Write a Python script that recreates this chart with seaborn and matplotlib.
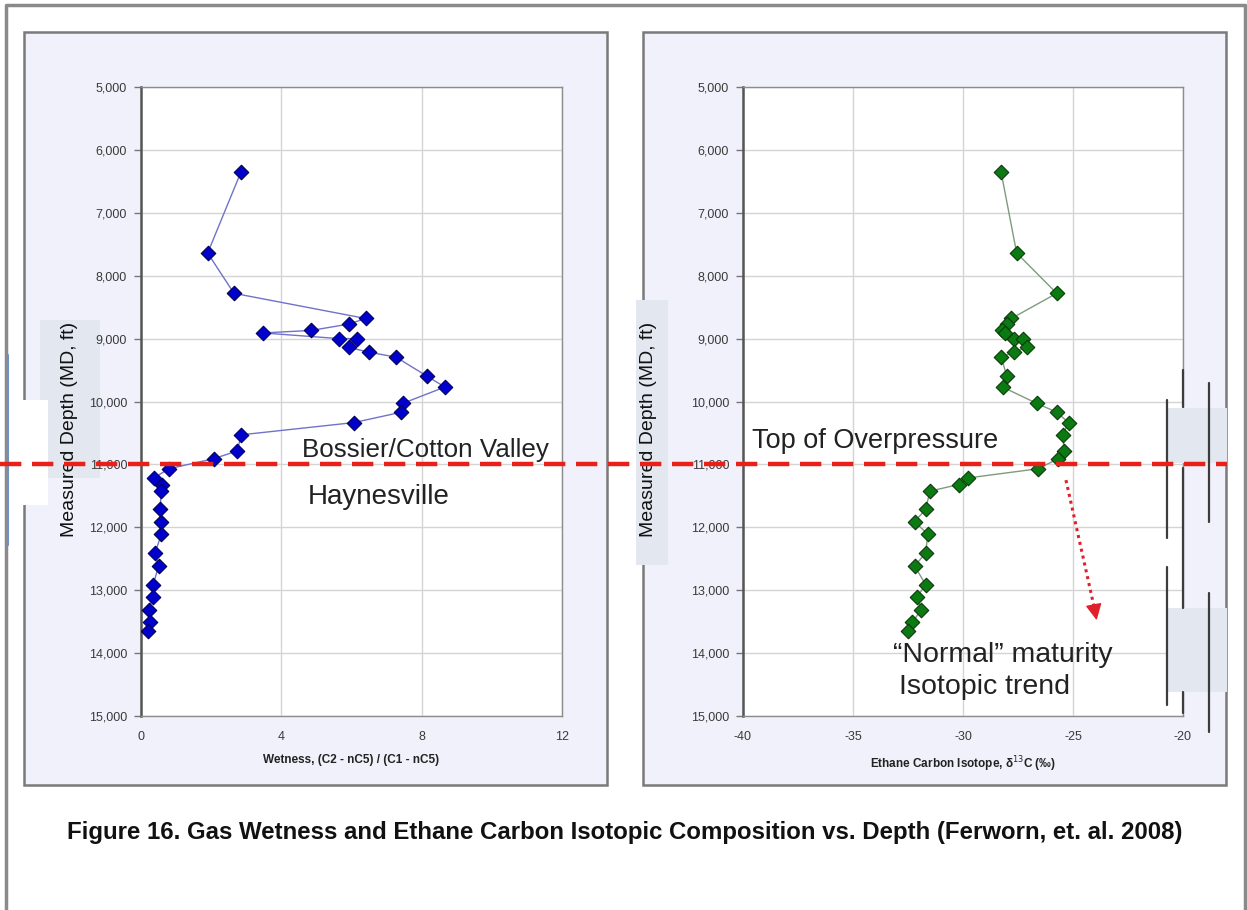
import matplotlib
matplotlib.use("Agg")
import matplotlib.pyplot as plt
import matplotlib.transforms as mtransforms
from matplotlib.patches import Rectangle, FancyArrowPatch
from matplotlib.lines import Line2D
import seaborn as sns

# sample depths (ft), shared by both panels
depth = [6350, 7640, 8280, 8680, 8770, 8870, 8910, 9000, 9000, 9140, 9215, 9295,
         9600, 9770, 10030, 10170, 10335, 10530, 10785, 10910, 11070, 11215, 11320,
         11425, 11715, 11910, 12110, 12410, 12615, 12910, 13110, 13310, 13510, 13655]

# gas wetness, (C2 - nC5) / (C1 - nC5)
wetness = [2.85, 1.9, 2.65, 6.4, 5.92, 4.85, 3.48, 5.64, 6.17, 5.92, 6.49, 7.27,
           8.16, 8.66, 7.46, 7.42, 6.07, 2.85, 2.75, 2.07, 0.79, 0.37, 0.61,
           0.58, 0.54, 0.57, 0.58, 0.40, 0.50, 0.35, 0.33, 0.23, 0.25, 0.20]

# ethane carbon isotope, d13C (permil)
ethane_d13c = [-28.27, -27.56, -25.74, -27.8, -28.0, -28.24, -28.1, -27.7, -27.26, -27.1, -27.7, -28.27,
               -28.0, -28.2, -26.65, -25.74, -25.2, -25.47, -25.4, -25.67, -26.6, -29.76, -30.2,
               -31.5, -31.7, -32.2, -31.6, -31.7, -32.2, -31.7, -32.1, -31.9, -32.3, -32.5]

depth_ticks = [5000, 6000, 7000, 8000, 9000, 10000, 11000, 12000, 13000, 14000, 15000]
depth_labels = [f"{d:,}" for d in depth_ticks]
wet_ticks = [0, 4, 8, 12]
iso_ticks = [-40, -35, -30, -25, -20]
overpressure_depth = 11000

caption = ("Figure 16. Gas Wetness and Ethane Carbon Isotopic Composition vs. Depth "
           "(Ferworn, et. al. 2008)")

sns.set_theme(style="whitegrid")
plt.rcParams['font.family'] = ['Liberation Sans', 'DejaVu Sans']
plt.rcParams['axes.unicode_minus'] = False

W, H = 1247, 910
fig = plt.figure(figsize=(W / 100, H / 100), dpi=100)
fig.patch.set_facecolor("white")


def box(x0, y0, x1, y1):
    # pixel box -> figure fraction [left, bottom, width, height]
    return [x0 / W, 1 - y1 / H, (x1 - x0) / W, (y1 - y0) / H]


def rect(x0, y0, x1, y1, fc, ec="none", lw=0, z=-1):
    l, b, w, h = box(x0, y0, x1, y1)
    fig.add_artist(Rectangle((l, b), w, h, transform=fig.transFigure,
                             facecolor=fc, edgecolor=ec, lw=lw, zorder=z))


def vline(x, y0, y1, color="#555555", lw=1.5, z=4):
    fig.add_artist(Line2D([x / W, x / W], [1 - y0 / H, 1 - y1 / H],
                          transform=fig.transFigure, color=color, lw=lw, zorder=z))


# outer frame
fig.add_artist(Line2D([6 / W, 6 / W, 1245 / W, 1245 / W], [0, 1 - 5 / H, 1 - 5 / H, 0],
                      transform=fig.transFigure, color="#8a8a8a", lw=2.5, zorder=-2))

# panel backgrounds
rect(24, 32, 607, 785, "#f0f1fa", "#7a7a7a", 1.8)
rect(643, 32, 1226, 785, "#f0f1fa", "#7a7a7a", 1.8)

# pasted label backgrounds / leftovers
rect(40, 320, 100, 478, "#e2e7f0", z=-0.5)
rect(636, 300, 668, 565, "#e2e7f0", z=-0.5)
rect(22, 400, 48, 505, "white", z=-0.5)
vline(8, 355, 545, color="#6f8fc8", lw=1.5, z=-0.5)

ax1 = fig.add_axes(box(141, 87, 562, 716))
ax2 = fig.add_axes(box(743, 87, 1183, 716))

panels = [
    (ax1, wetness, "#6f73c9", "#0000cd", "#00005a", [0, 12], wet_ticks,
     "Wetness, (C2 - nC5) / (C1 - nC5)"),
    (ax2, ethane_d13c, "#7d9c7d", "#0b7a12", "#0a3a0a", [-40, -20], iso_ticks,
     "Ethane Carbon Isotope, \u03b4$^{13}$C (\u2030)"),
]

for ax, vals, lc, mc, ec, xlim, xticks, xlabel in panels:
    ax.set_facecolor("white")
    sns.lineplot(x=vals, y=depth, sort=False, estimator=None, color=lc, lw=1.0, ax=ax, zorder=2)
    sns.scatterplot(x=vals, y=depth, marker="D", s=55, color=mc, edgecolor=ec, linewidth=0.8,
                    ax=ax, zorder=3)
    ax.set_xlim(*xlim)
    ax.set_ylim(15000, 5000)
    ax.set_xticks(xticks)
    ax.set_yticks(depth_ticks)
    ax.set_yticklabels(depth_labels)
    ax.grid(True, color="#d4d4d4", lw=1.0)
    for s in ax.spines.values():
        s.set_color("#8c8c8c")
        s.set_linewidth(1.0)
    ax.spines["left"].set_color("#555555")
    ax.spines["left"].set_linewidth(1.8)
    ax.tick_params(axis="y", which="major", left=True, length=5, width=1, color="#777777",
                   labelsize=9, labelcolor="#3a3a3a", pad=5)
    ax.tick_params(axis="x", which="major", bottom=False, labelsize=9, labelcolor="#3a3a3a", pad=5)
    ax.set_xlabel(xlabel, fontsize=8.5, fontweight="bold", color="#222222", labelpad=8)
    ax.set_ylabel("Measured Depth (MD, ft)", fontsize=14, color="#111111")

ax1.yaxis.set_label_coords(-0.15, 0.455)
ax2.yaxis.set_label_coords(-0.195, 0.455)

# annotations
ax1.text(4.59, 10770, "Bossier/Cotton Valley", fontsize=18.7, color="#222222", va="center")
ax1.text(4.76, 11520, "Haynesville", fontsize=20, color="#222222", va="center")
ax2.text(-39.6, 10630, "Top of Overpressure", fontsize=19.5, color="#222222", va="center")
ax2.text(-33.2, 14030, "\u201cNormal\u201d maturity", fontsize=20.5, color="#222222", va="center")
ax2.text(-32.9, 14540, "Isotopic trend", fontsize=20.5, color="#222222", va="center")

# dotted red arrow towards the "normal" trend
ax2.plot([-25.32, -24.0], [11250, 13330], color="#e0202a", lw=2.2, linestyle=(0, (1, 1.3)),
         zorder=6)
ax2.add_patch(FancyArrowPatch((-24.05, 13250), (-23.9, 13520),
                              arrowstyle="-|>,head_length=10,head_width=5",
                              color="#e0202a", lw=1, zorder=6))

# right-hand pasted leftovers
rect(1168, 408, 1227, 463, "#e2e7f0", z=3)
rect(1168, 608, 1227, 692, "#e2e7f0", z=3)
for x, y0, y1 in [(1167, 400, 538), (1167, 567, 705), (1183, 370, 407), (1183, 468, 608),
                  (1183, 692, 713), (1209, 383, 522), (1209, 593, 732)]:
    vline(x, y0, y1, color="#3c3c3c", lw=1.6, z=4)

# top of overpressure dashed line across the whole figure
trans = mtransforms.blended_transform_factory(fig.transFigure, ax1.transData)
fig.add_artist(Line2D([0, 1227 / W], [overpressure_depth, overpressure_depth], transform=trans,
                      color="#e8201a", lw=3.2, dashes=(4.8, 2.4), zorder=5))

fig.text(67 / W, 1 - 833 / H, caption, fontsize=17.3, fontweight="bold", color="#111111", va="center")

fig.savefig("out.png", dpi=100)
